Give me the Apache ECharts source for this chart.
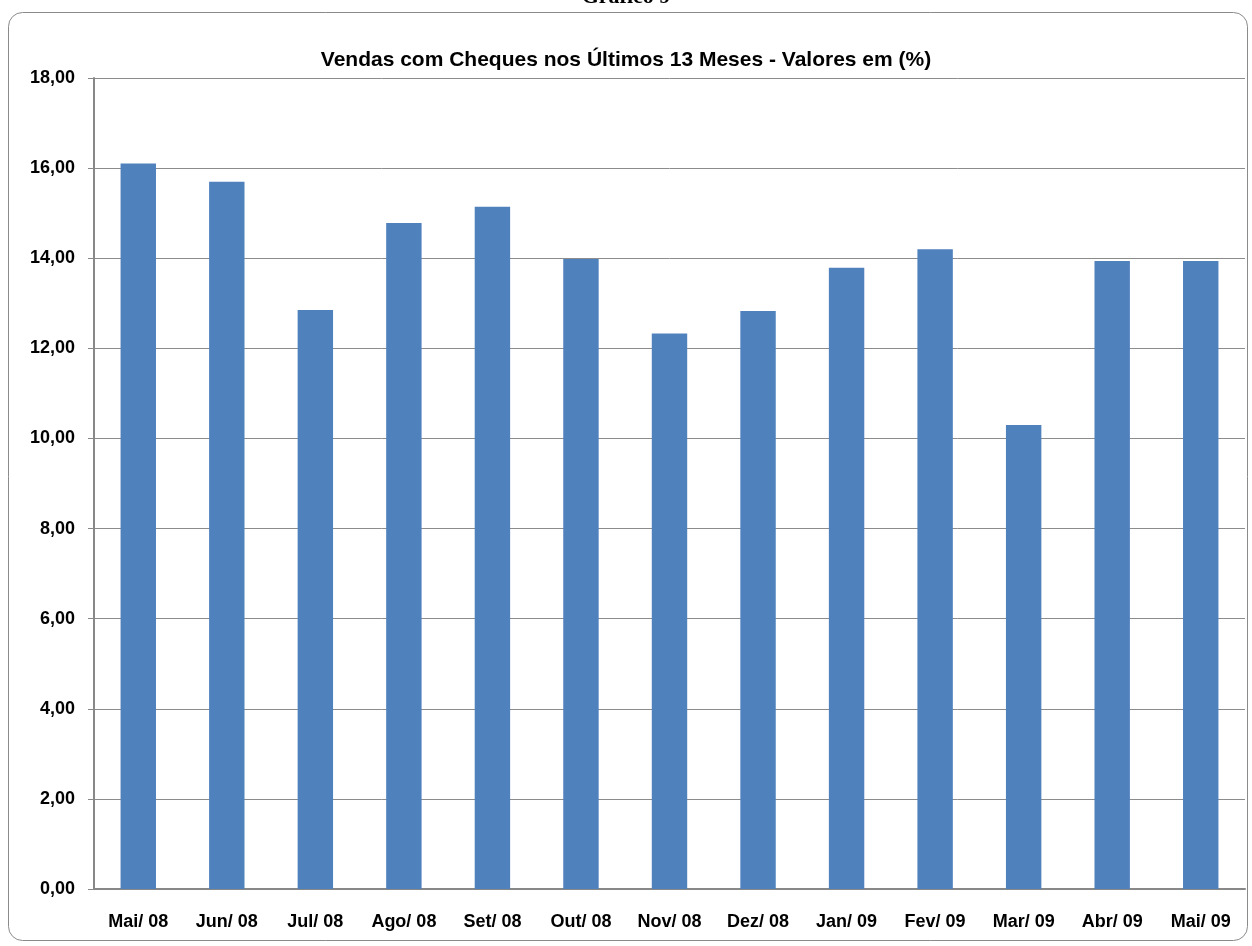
<!DOCTYPE html>
<html>
<head>
<meta charset="utf-8">
<style>
  html, body { margin: 0; padding: 0; background: #fff; }
  #chart { width: 1252px; height: 946px; }
</style>
<script src="https://cdn.jsdelivr.net/npm/echarts@6/dist/echarts.min.js"></script>
</head>
<body>
<div id="chart"></div>
<script>
var meses = ["Mai/ 08", "Jun/ 08", "Jul/ 08", "Ago/ 08", "Set/ 08", "Out/ 08", "Nov/ 08",
  "Dez/ 08", "Jan/ 09", "Fev/ 09", "Mar/ 09", "Abr/ 09", "Mai/ 09"];
var valores = [16.1, 15.7, 12.85, 14.78, 15.14, 13.98, 12.33, 12.83, 13.79, 14.2, 10.3, 13.94, 13.94];
var titulo = "Vendas com Cheques nos Últimos 13 Meses - Valores em (%)";

var myChart = echarts.init(document.getElementById("chart"));
var option = {
  animation: false,
  backgroundColor: "#fff",
  title: {
    text: titulo,
    left: "center",
    top: 45,
    textStyle: {
      fontFamily: "Liberation Sans",
      fontWeight: "bold",
      fontSize: 21,
      color: "#000",
    },
  },
  graphic: [
    {
      type: "rect",
      shape: { x: 8.5, y: 12.5, width: 1239, height: 928, r: 14 },
      style: { fill: "none", stroke: "#8a8a8a", lineWidth: 1 },
      silent: true,
    },
    {
      type: "text",
      left: "center",
      top: -14,
      style: {
        text: "Gráfico 9",
        font: "bold 22px 'Liberation Serif'",
        fill: "#000",
      },
    },
  ],
  grid: {
    left: 94,
    right: 7,
    top: 78,
    bottom: 57,
  },
  xAxis: {
    type: "category",
    data: meses,
    axisLine: { lineStyle: { color: "#888", width: 2 } },
    axisTick: { length: 6, lineStyle: { color: "#888" } },
    axisLabel: {
      margin: 24,
      fontFamily: "Liberation Sans",
      fontWeight: "bold",
      fontSize: 18,
      color: "#000",
    },
  },
  yAxis: {
    type: "value",
    min: 0,
    max: 18,
    interval: 2,
    axisLine: { show: true, lineStyle: { color: "#888", width: 2 } },
    axisTick: { show: true, length: 6, lineStyle: { color: "#888" } },
    splitLine: { lineStyle: { color: "#8c8c8c", width: 1 } },
    axisLabel: {
      margin: 19,
      fontFamily: "Liberation Sans",
      fontWeight: "bold",
      fontSize: 18,
      color: "#000",
      formatter: function (v) {
        return v.toFixed(2).replace(".", ",");
      },
    },
  },
  series: [
    {
      type: "bar",
      data: valores,
      barWidth: "40%",
      itemStyle: { color: "#4F81BD" },
    },
  ],
};
myChart.setOption(option);
</script>
</body>
</html>
